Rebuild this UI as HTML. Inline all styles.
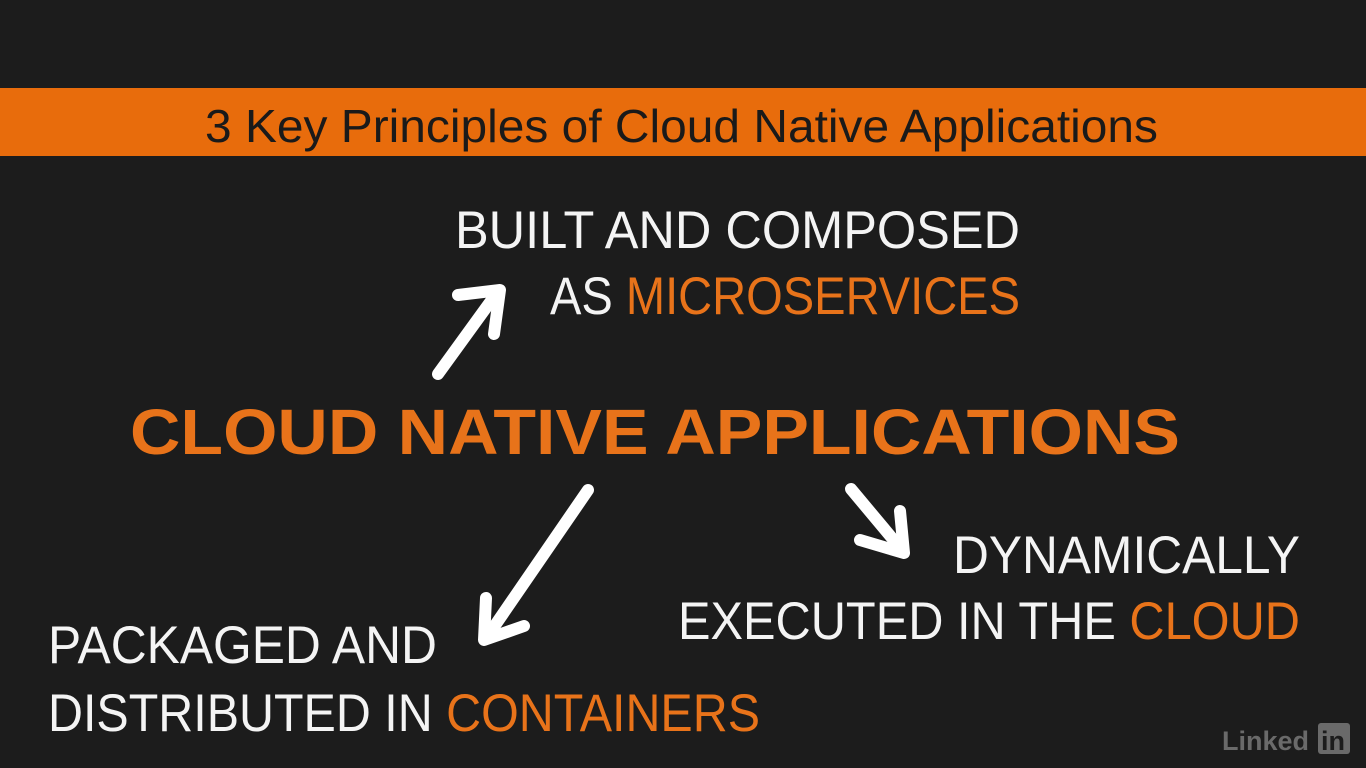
<!DOCTYPE html>
<html><head><meta charset="utf-8"><style>
html,body{margin:0;padding:0;background:#1c1c1c;width:1366px;height:768px;overflow:hidden}
text{font-family:"Liberation Sans",sans-serif}
</style></head><body>
<svg width="1366" height="768" viewBox="0 0 1366 768" xmlns="http://www.w3.org/2000/svg">
<rect width="1366" height="768" fill="#1c1c1c"/>
<rect x="0" y="88" width="1366" height="68" fill="#e86c0c"/>
<text x="205" y="142" font-size="46" fill="#1a1a1a" textLength="953" lengthAdjust="spacingAndGlyphs">3 Key Principles of Cloud Native Applications</text>

<g fill="#f4f4f4" font-size="53">
<text x="455" y="248" textLength="565" lengthAdjust="spacingAndGlyphs">BUILT AND COMPOSED</text>
<text x="550" y="314" textLength="470" lengthAdjust="spacingAndGlyphs">AS <tspan fill="#e8731a">MICROSERVICES</tspan></text>
<text x="953" y="573" textLength="347" lengthAdjust="spacingAndGlyphs">DYNAMICALLY</text>
<text x="678" y="639" textLength="622" lengthAdjust="spacingAndGlyphs">EXECUTED IN THE <tspan fill="#e8731a">CLOUD</tspan></text>
<text x="48" y="663" textLength="389" lengthAdjust="spacingAndGlyphs">PACKAGED AND</text>
<text x="48" y="731" textLength="712" lengthAdjust="spacingAndGlyphs">DISTRIBUTED IN <tspan fill="#e8731a">CONTAINERS</tspan></text>
</g>
<text x="130" y="454" font-size="64" font-weight="bold" fill="#e8731a" textLength="1050" lengthAdjust="spacingAndGlyphs">CLOUD NATIVE APPLICATIONS</text>

<g stroke="#ffffff" stroke-width="12" fill="none" stroke-linecap="round" stroke-linejoin="round">
<path d="M438 374 L496 294"/><path d="M458 295 L500 290 L494 334"/>
<path d="M588 490 L487 637"/><path d="M486 598 L484 640 L524 626"/>
<path d="M851 489 L902 550"/><path d="M860 540 L904 553 L900 511"/>
</g>
<text x="1222" y="750" font-size="27" font-weight="bold" fill="#6a6a6a">Linked</text>
<rect x="1318" y="723" width="32" height="31" rx="3" fill="#6a6a6a"/>
<text x="1321" y="750" font-size="27" font-weight="bold" fill="#1c1c1c">in</text>
</svg>
</body></html>
